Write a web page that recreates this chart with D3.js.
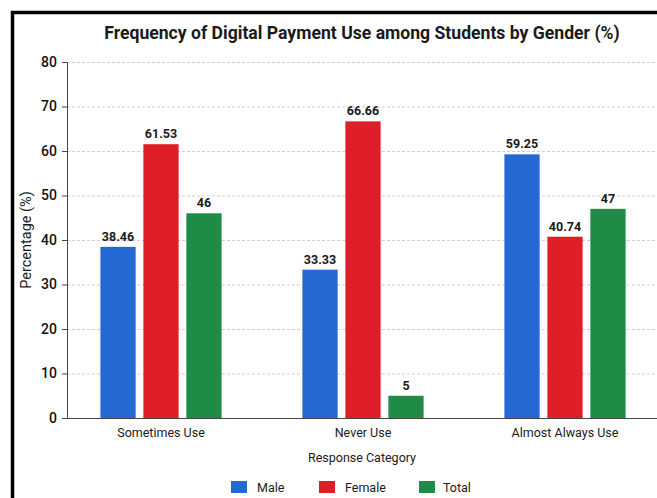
<!DOCTYPE html>
<html>
<head>
<meta charset="utf-8">
<script src="https://cdn.jsdelivr.net/npm/d3@7/dist/d3.min.js"></script>
<style>
  html, body { margin: 0; padding: 0; background: #fff; }
  svg { display: block; font-family: Roboto, "Liberation Sans", sans-serif; }
</style>
</head>
<body>
<svg id="chart" width="657" height="498"></svg>
<script>
// Survey results: share of students (%) per response category
const categories = ["Sometimes Use", "Never Use", "Almost Always Use"];
const seriesNames = ["Male", "Female", "Total"];
const maleValues = [38.46, 33.33, 59.25];
const femaleValues = [61.53, 66.66, 40.74];
const totalValues = [46, 5, 47];
const yTicks = [0, 10, 20, 30, 40, 50, 60, 70, 80];
const seriesColors = ["#2468d2", "#de1f29", "#1f8b46"];

const series = [maleValues, femaleValues, totalValues];
const rows = categories.map((c, i) => ({
  category: c,
  values: seriesNames.map((s, j) => ({ key: s, value: series[j][i] }))
}));

const svg = d3.select("#chart");
const W = 657, H = 498;

// frame lines on the top and left edges
svg.append("rect").attr("x", 0).attr("y", 0).attr("width", W).attr("height", H).attr("fill", "#fff");
svg.append("line").attr("x1", 12.5).attr("x2", 12.5).attr("y1", 11).attr("y2", H)
  .attr("stroke", "#000").attr("stroke-width", 3.5);
svg.append("line").attr("x1", 11).attr("x2", W).attr("y1", 12.5).attr("y2", 12.5)
  .attr("stroke", "#000").attr("stroke-width", 3.5);

const plot = { left: 67, right: 657, top: 62, bottom: 418 };

const x0 = d3.scaleBand().domain(categories).range([60, 666])
  .paddingInner(0.4).paddingOuter(0.2);
const x1 = d3.scaleBand().domain(seriesNames).range([0, x0.bandwidth()])
  .paddingInner(0.18);
const y = d3.scaleLinear().domain([0, 80]).range([plot.bottom, plot.top]);
const color = d3.scaleOrdinal().domain(seriesNames).range(seriesColors);

// dashed horizontal grid
svg.append("g").selectAll("line").data(yTicks.filter(t => t > 0)).join("line")
  .attr("x1", plot.left).attr("x2", plot.right)
  .attr("y1", d => y(d) + 0.5).attr("y2", d => y(d) + 0.5)
  .attr("stroke", "#cfcfcf").attr("stroke-width", 1).attr("stroke-dasharray", "3,2");

// bars
const groups = svg.append("g").selectAll("g").data(rows).join("g")
  .attr("transform", d => `translate(${x0(d.category)},0)`);

groups.selectAll("rect").data(d => d.values).join("rect")
  .attr("x", d => x1(d.key))
  .attr("y", d => y(d.value))
  .attr("width", x1.bandwidth())
  .attr("height", d => y(0) - y(d.value))
  .attr("fill", d => color(d.key));

groups.selectAll("text").data(d => d.values).join("text")
  .attr("x", d => x1(d.key) + x1.bandwidth() / 2)
  .attr("y", d => y(d.value) - 6)
  .attr("text-anchor", "middle")
  .attr("font-size", 12.5).attr("font-weight", "bold").attr("fill", "#1a1a1a")
  .text(d => d.value);

// y axis
const yAxis = svg.append("g").attr("transform", `translate(${plot.left},0)`)
  .call(d3.axisLeft(y).tickValues(yTicks).tickSize(5).tickSizeOuter(0).tickPadding(5));
yAxis.select(".domain").attr("stroke", "#444");
yAxis.selectAll(".tick line").attr("stroke", "#444");
yAxis.selectAll(".tick text").attr("font-size", 14).attr("font-weight", 500).attr("fill", "#111")
  .attr("font-family", "Roboto, sans-serif");

// x axis
const xAxis = svg.append("g").attr("transform", `translate(0,${plot.bottom})`)
  .call(d3.axisBottom(x0).tickSize(0).tickPadding(10));
xAxis.select(".domain").attr("d", `M${plot.left - 5},0.5H${plot.right}`).attr("stroke", "#444");
xAxis.selectAll(".tick text").attr("font-size", 12.5).attr("fill", "#1a1a1a")
  .attr("font-family", "Roboto, sans-serif");

// title and axis titles
svg.append("text").attr("x", 362).attr("y", 39).attr("text-anchor", "middle")
  .attr("font-size", 17.6).attr("font-weight", "bold").attr("fill", "#1a1a1a")
  .text("Frequency of Digital Payment Use among Students by Gender (%)");

svg.append("text").attr("transform", `translate(31,${(plot.top + plot.bottom) / 2}) rotate(-90)`)
  .attr("text-anchor", "middle").attr("font-size", 14.5).attr("fill", "#1a1a1a")
  .text("Percentage (%)");

svg.append("text").attr("x", 362).attr("y", 462).attr("text-anchor", "middle")
  .attr("font-size", 12.5).attr("fill", "#1a1a1a").text("Response Category");

// legend
const legendX = [231, 319, 419];
const legend = svg.append("g").selectAll("g").data(seriesNames).join("g")
  .attr("transform", (d, i) => `translate(${legendX[i]},481)`);
legend.append("rect").attr("width", 16).attr("height", 12).attr("fill", d => color(d));
legend.append("text").attr("x", d => d === "Total" ? 24 : 26)
  .attr("y", 11).attr("font-size", 12.5).attr("fill", "#1a1a1a").text(d => d);
</script>
</body>
</html>
